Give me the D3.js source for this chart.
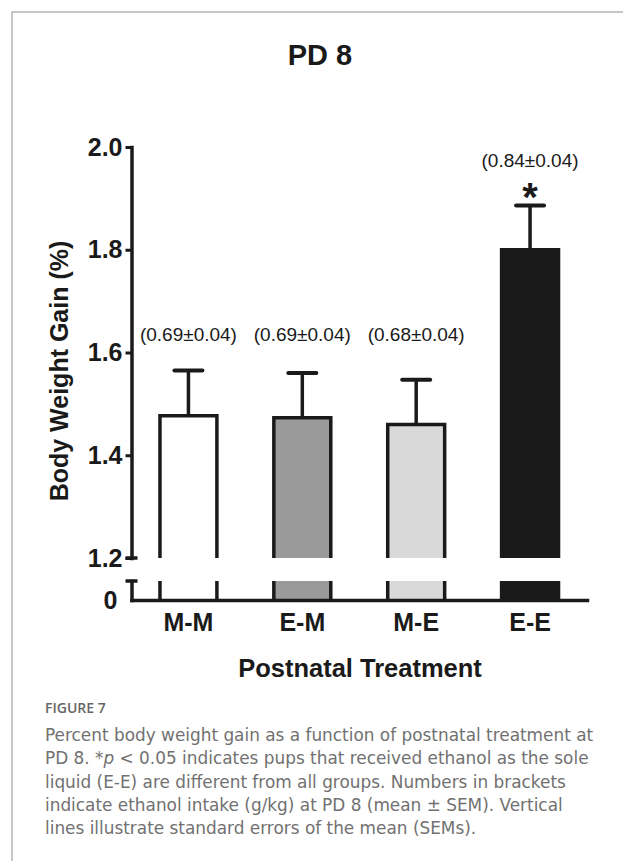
<!DOCTYPE html>
<meta charset="utf-8">
<style>
  body { margin: 0; background: #fff; }
  svg { display: block; }
</style>
<svg width="623" height="861"></svg>
<script src="https://d3js.org/d3.v7.min.js"></script>
<script>

var groups = ["M-M", "E-M", "M-E", "E-E"],
    means = [1.477, 1.473, 1.460, 1.800],   // % body weight gain
    sems = [0.088, 0.087, 0.087, 0.086],
    intake = ["(0.69±0.04)", "(0.69±0.04)", "(0.68±0.04)", "(0.84±0.04)"],
    significant = [false, false, false, true],
    yTicks = [1.2, 1.4, 1.6, 1.8, 2.0],
    fills = ["#ffffff", "#9a9a9a", "#d9d9d9", "#1a1a1a"];

var caption = [
  "Percent body weight gain as a function of postnatal treatment at",
  "PD 8. *p < 0.05 indicates pups that received ethanol as the sole",
  "liquid (E-E) are different from all groups. Numbers in brackets",
  "indicate ethanol intake (g/kg) at PD 8 (mean ± SEM). Vertical",
  "lines illustrate standard errors of the mean (SEMs)."
];

var svg = d3.select("svg"),
    ink = "#1a1a1a",
    font = "'Liberation Sans', Arial, sans-serif";

var axisX = 131.5,
    breakTop = 558,   // where the upper segment stops (1.2)
    breakBot = 581,   // where the lower segment starts
    baseY = 600;

var x = d3.scaleBand()
    .domain(groups)
    .range([axisX, 587])
    .paddingInner(0.5)
    .paddingOuter(0.25);

var y = d3.scaleLinear().domain([1.2, 2.0]).range([breakTop, 147]);
var yLow = d3.scaleLinear().domain([0, 1]).range([baseY, breakBot]);

var color = d3.scaleOrdinal().domain(groups).range(fills);

var data = groups.map(function(g, i) {
  return {g: g, mean: means[i], sem: sems[i], label: intake[i], sig: significant[i]};
});

// frame round the figure
svg.append("path")
    .attr("d", "M12,861V12H623")
    .attr("fill", "none")
    .attr("stroke", "#b5b5b5")
    .attr("stroke-width", 1.5);

svg.append("text")
    .attr("x", 320).attr("y", 65)
    .attr("text-anchor", "middle")
    .style("font", "bold 29px " + font)
    .attr("fill", ink)
    .text("PD 8");

// bars, upper part
var bars = svg.append("g");
bars.selectAll("rect.up").data(data).enter().append("rect")
    .attr("x", function(d) { return x(d.g); })
    .attr("y", function(d) { return y(d.mean); })
    .attr("width", x.bandwidth())
    .attr("height", function(d) { return breakTop - y(d.mean); })
    .attr("fill", function(d) { return color(d.g); });
bars.selectAll("path.up").data(data).enter().append("path")
    .attr("d", function(d) {
      var x0 = x(d.g), x1 = x0 + x.bandwidth();
      return "M" + x0 + "," + breakTop + "V" + y(d.mean) + "H" + x1 + "V" + breakTop;
    })
    .attr("fill", "none").attr("stroke", ink).attr("stroke-width", 3.5)
    .attr("stroke-linejoin", "miter");

// bars, lower part
bars.selectAll("rect.low").data(data).enter().append("rect")
    .attr("x", function(d) { return x(d.g); })
    .attr("y", breakBot)
    .attr("width", x.bandwidth())
    .attr("height", baseY - breakBot)
    .attr("fill", function(d) { return color(d.g); });
bars.selectAll("path.low").data(data).enter().append("path")
    .attr("d", function(d) {
      var x0 = x(d.g), x1 = x0 + x.bandwidth();
      return "M" + x0 + "," + breakBot + "V" + baseY + "M" + x1 + "," + breakBot + "V" + baseY;
    })
    .attr("fill", "none").attr("stroke", ink).attr("stroke-width", 3.5);

// error bars
var err = svg.append("g").attr("stroke", ink).attr("fill", "none");
err.selectAll("line.v").data(data).enter().append("line")
    .attr("x1", function(d) { return x(d.g) + x.bandwidth() / 2; })
    .attr("x2", function(d) { return x(d.g) + x.bandwidth() / 2; })
    .attr("y1", function(d) { return y(d.mean); })
    .attr("y2", function(d) { return y(d.mean + d.sem); })
    .attr("stroke-width", 3.5);
err.selectAll("line.cap").data(data).enter().append("line")
    .attr("x1", function(d) { return x(d.g) + x.bandwidth() / 2 - 14; })
    .attr("x2", function(d) { return x(d.g) + x.bandwidth() / 2 + 14; })
    .attr("y1", function(d) { return y(d.mean + d.sem); })
    .attr("y2", function(d) { return y(d.mean + d.sem); })
    .attr("stroke-width", 4)
    .attr("stroke-linecap", "round");

// intake labels
var plainTop = d3.max(data.filter(function(d) { return !d.sig; }), function(d) { return d.mean + d.sem; });
svg.append("g").selectAll("text").data(data).enter().append("text")
    .attr("x", function(d) { return x(d.g) + x.bandwidth() / 2; })
    .attr("y", function(d) { return d.sig ? y(d.mean + d.sem) - 39 : y(plainTop) - 29; })
    .attr("text-anchor", "middle")
    .style("font", "19px " + font)
    .attr("fill", ink)
    .text(function(d) { return d.label; });
svg.append("g").selectAll("text").data(data.filter(function(d) { return d.sig; })).enter().append("text")
    .attr("x", function(d) { return x(d.g) + x.bandwidth() / 2; })
    .attr("y", function(d) { return y(d.mean + d.sem) + 5; })
    .attr("text-anchor", "middle")
    .style("font", "bold 40px " + font)
    .attr("fill", ink)
    .text("*");

// axes
function styleAxis(g) {
  g.selectAll(".domain").attr("stroke", ink).attr("stroke-width", 3.5).attr("stroke-linecap", "square");
  g.selectAll(".tick line").attr("stroke", ink).attr("stroke-width", 3);
  g.selectAll("text").style("font", "bold 25px " + font).attr("fill", ink);
}

svg.append("g")
    .attr("transform", "translate(" + axisX + ",0)")
    .call(d3.axisLeft(y).tickValues(yTicks).tickFormat(d3.format(".1f"))
      .tickSize(6).tickPadding(3).tickSizeOuter(0))
    .call(styleAxis);

svg.append("g")
    .attr("transform", "translate(" + axisX + ",0)")
    .call(d3.axisLeft(yLow).tickValues([0]).tickFormat(d3.format("d"))
      .tickSize(0).tickPadding(14).tickSizeOuter(0))
    .call(styleAxis);

svg.append("g")
    .attr("transform", "translate(0," + baseY + ")")
    .call(d3.axisBottom(x).tickSize(0).tickPadding(13).tickSizeOuter(0))
    .call(styleAxis);

// break caps
svg.append("g").selectAll("line").data([breakTop, breakBot]).enter().append("line")
    .attr("x1", axisX - 6).attr("x2", axisX + 6)
    .attr("y1", function(d) { return d; }).attr("y2", function(d) { return d; })
    .attr("stroke", ink).attr("stroke-width", 3.5);

// axis titles
svg.append("text")
    .attr("transform", "translate(68,371) rotate(-90)")
    .attr("text-anchor", "middle")
    .style("font", "bold 25px " + font)
    .attr("fill", ink)
    .text("Body Weight Gain (%)");

svg.append("text")
    .attr("x", 360).attr("y", 677)
    .attr("text-anchor", "middle")
    .style("font", "bold 25.5px " + font)
    .attr("fill", ink)
    .text("Postnatal Treatment");

// caption
svg.append("text")
    .attr("x", 45).attr("y", 713)
    .style("font", "600 14px 'Open Sans', sans-serif")
    .attr("fill", "#666")
    .text("FIGURE 7");

// DejaVu has a shorter line box, so the tight 23px leading doesn't collide
var cap = svg.append("text")
    .attr("y", 741)
    .style("font", "16.9px 'DejaVu Sans', sans-serif")
    .attr("fill", "#717171");
caption.forEach(function(line, i) {
  var parts = line.split("*p");
  cap.append("tspan").attr("x", 45).attr("dy", i ? 23.3 : 0)
      .text(parts[0] + (parts.length > 1 ? "*" : ""));
  if (parts.length > 1) {
    cap.append("tspan").style("font-style", "italic").text("p");
    cap.append("tspan").text(parts[1]);
  }
});

</script>
